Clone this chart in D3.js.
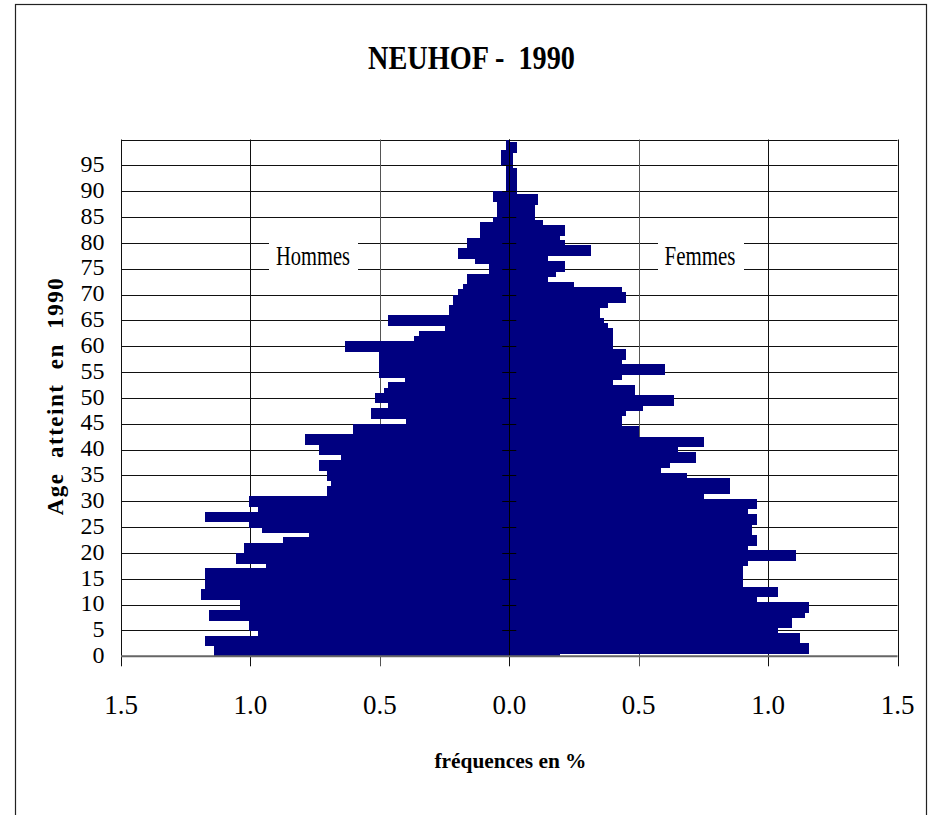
<!DOCTYPE html>
<html><head><meta charset="utf-8">
<script src="https://cdn.jsdelivr.net/npm/d3@7"></script>
<style>body{margin:0;background:#fff}svg{display:block}</style>
</head><body><svg id="c" width="928" height="815"></svg>
<script>
const title = "NEUHOF -  1990";
const xTitle = "fréquences en %";
const yTitle = "Age  atteint  en  1990";
const leftLabel = "Hommes", rightLabel = "Femmes";

// share of population (%) by single year of age, index = age 0..99
const men = [1.141,1.141,1.176,1.176,0.971,1.006,1.006,1.160,1.160,1.041,
  1.041,1.191,1.191,1.175,1.175,1.175,1.175,0.940,1.056,1.056,
  1.025,1.025,0.875,0.774,0.956,1.006,1.176,1.176,0.971,1.006,
  1.006,0.705,0.705,0.689,0.705,0.705,0.735,0.735,0.650,0.735,
  0.735,0.790,0.790,0.604,0.604,0.399,0.535,0.535,0.469,0.519,
  0.519,0.484,0.469,0.401,0.504,0.504,0.504,0.504,0.504,0.635,
  0.635,0.368,0.349,0.249,0.469,0.469,0.233,0.233,0.218,0.218,
  0.197,0.178,0.162,0.162,0.077,0.077,0.133,0.198,0.198,0.162,
  0.162,0.112,0.112,0.112,0.062,0.046,0.046,0.046,0.062,0.062,
  0.013,0.013,0.013,0.013,0.013,0.032,0.032,0.032,0.013,0.013];
const women = [0.196,1.158,1.158,1.123,1.123,1.037,1.092,1.092,1.141,1.158,
  1.158,0.956,1.037,1.037,0.905,0.905,0.905,0.905,0.921,1.108,
  1.108,0.921,0.956,0.956,0.938,0.938,0.957,0.957,0.922,0.957,
  0.957,0.752,0.853,0.853,0.853,0.686,0.586,0.621,0.721,0.721,
  0.652,0.751,0.751,0.500,0.500,0.435,0.435,0.451,0.516,0.636,
  0.636,0.486,0.486,0.401,0.435,0.601,0.601,0.435,0.451,0.451,
  0.401,0.401,0.401,0.401,0.381,0.366,0.350,0.350,0.381,0.451,
  0.451,0.435,0.250,0.149,0.179,0.215,0.215,0.148,0.314,0.314,
  0.215,0.196,0.215,0.215,0.129,0.098,0.098,0.098,0.113,0.113,
  0.030,0.030,0.030,0.030,0.030,0.013,0.013,0.013,0.030,0.030];
const ages = men.map((d, i) => i);
const yTicks = [0,5,10,15,20,25,30,35,40,45,50,55,60,65,70,75,80,85,90,95];
const gridAges = [5,10,15,20,25,30,35,40,45,50,55,60,65,70,75,80,85,90,95,100];
const xTicks = [-1.5,-1.0,-0.5,0,0.5,1.0,1.5];

const FONT = "'Liberation Serif','Times New Roman',serif";
const BAR = "#000080";
const svg = d3.select("#c");
svg.append("rect").attr("width",928).attr("height",815).attr("fill","#fff");
// outer frame
svg.append("rect").attr("x",15.5).attr("y",4.5).attr("width",911).attr("height",900)
  .attr("fill","none").attr("stroke","#222").attr("stroke-width",1.2);

const x = d3.scaleLinear().domain([-1.5,1.5]).range([121,897.5]);
const y = d3.scaleLinear().domain([0,100]).range([656.3,139.5]);

// gridlines
svg.append("g").selectAll("line").data(gridAges).join("line")
  .attr("x1",x(-1.5)).attr("x2",x(1.5)).attr("y1",d=>Math.round(y(d))+0.5).attr("y2",d=>Math.round(y(d))+0.5)
  .attr("stroke","#111").attr("stroke-width",1);
svg.append("g").selectAll("line").data(xTicks).join("line")
  .attr("x1",d=>Math.round(x(d))+0.5).attr("x2",d=>Math.round(x(d))+0.5)
  .attr("y1",y(100)).attr("y2",y(0)+10)
  .attr("stroke",d=>Math.abs(d)===0.5?"#555":"#111").attr("stroke-width",1);

// bars
const g = svg.append("g").attr("shape-rendering","crispEdges");
g.selectAll("rect.m").data(ages).join("rect").attr("class","m")
  .attr("x",a=>x(-men[a])).attr("width",a=>x(0)-x(-men[a]))
  .attr("y",a=>y(a+1)).attr("height",a=>y(a)-y(a+1)+0.4)
  .attr("fill",BAR);
g.selectAll("rect.w").data(ages).join("rect").attr("class","w")
  .attr("x",x(0)).attr("width",a=>x(women[a])-x(0))
  .attr("y",a=>y(a+0.5)).attr("height",a=>y(Math.max(a-0.5,0))-y(a+0.5)+0.4)
  .attr("fill",BAR);

// central axis with ticks
svg.append("line").attr("x1",Math.round(x(0))+0.5).attr("x2",Math.round(x(0))+0.5)
  .attr("y1",y(100)).attr("y2",y(0)).attr("stroke","#000");
svg.append("g").selectAll("line").data(yTicks.slice(1)).join("line")
  .attr("x1",x(0)-7).attr("x2",x(0)+7).attr("y1",d=>Math.round(y(d))+0.5).attr("y2",d=>Math.round(y(d))+0.5)
  .attr("stroke","#000");
// bottom axis
svg.append("line").attr("x1",x(-1.5)).attr("x2",x(1.5)).attr("y1",y(0)).attr("y2",y(0))
  .attr("stroke","#666").attr("stroke-width",2);

// y tick labels
svg.append("g").selectAll("text").data(yTicks).join("text")
  .attr("x",104.5).attr("y",d=>y(d)).attr("dy","0.28em").attr("text-anchor","end")
  .attr("font-family",FONT).attr("font-size",24).text(d=>d);
// x tick labels
svg.append("g").selectAll("text").data(xTicks).join("text")
  .attr("x",d=>x(d)).attr("y",714).attr("text-anchor","middle")
  .attr("font-family",FONT).attr("font-size",27).text(d=>Math.abs(d).toFixed(1));

// Hommes / Femmes labels
function boxLabel(txt, x0, x1, cx, len){
  svg.append("rect").attr("x",x0).attr("y",239).attr("width",x1-x0).attr("height",34).attr("fill","#fff");
  svg.append("text").attr("x",cx).attr("y",265).attr("text-anchor","middle")
    .attr("font-family",FONT).attr("font-size",27.5)
    .attr("textLength",len).attr("lengthAdjust","spacingAndGlyphs").text(txt);
}
boxLabel(leftLabel, 269, 358, 313, 74);
boxLabel(rightLabel, 658, 744, 700, 71);

// titles
svg.append("text").attr("x",471.5).attr("y",69).attr("text-anchor","middle")
  .attr("font-family",FONT).attr("font-weight","bold").attr("font-size",34)
  .attr("textLength",207).attr("lengthAdjust","spacingAndGlyphs")
  .style("white-space","pre").text(title);
svg.append("text").attr("x",510.5).attr("y",768).attr("text-anchor","middle")
  .attr("font-family",FONT).attr("font-weight","bold").attr("font-size",20)
  .attr("textLength",152).attr("lengthAdjust","spacingAndGlyphs").text(xTitle);
svg.append("text").attr("transform","translate(63,396) rotate(-90)").attr("text-anchor","middle")
  .attr("font-family",FONT).attr("font-weight","bold").attr("font-size",23)
  .attr("letter-spacing",1.5)
  .style("white-space","pre").text(yTitle);
</script></body></html>
